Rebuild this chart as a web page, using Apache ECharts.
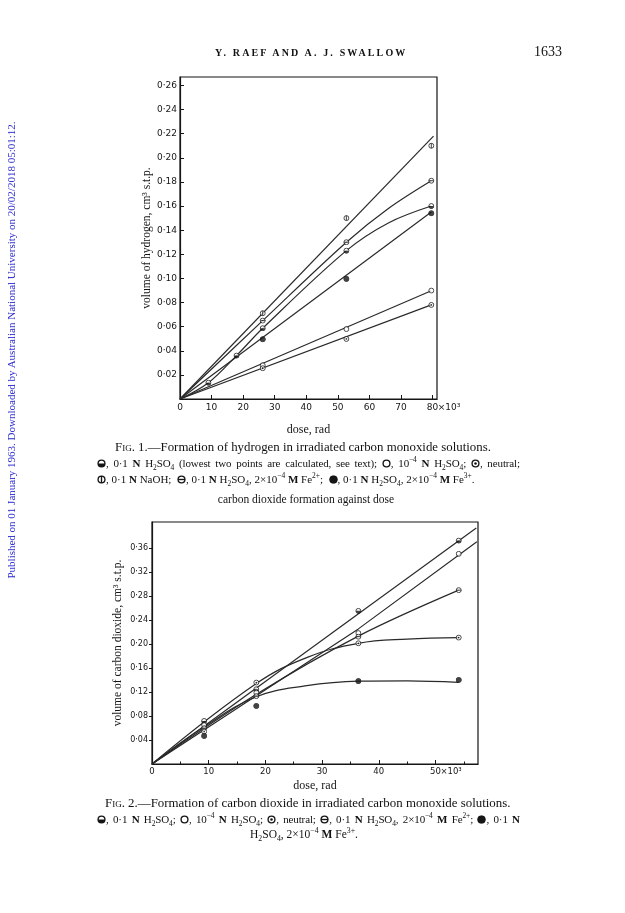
<!DOCTYPE html>
<html>
<head>
<meta charset="utf-8">
<script src="https://cdn.jsdelivr.net/npm/echarts@6/dist/echarts.min.js"></script>
<style>
  html,body{margin:0;padding:0;background:#fff;}
  #page{position:relative;width:625px;height:913px;overflow:hidden;font-family:"Liberation Serif","DejaVu Serif",serif;color:#111;}
  #chart{position:absolute;left:0;top:0;width:625px;height:913px;}
  .t{position:absolute;white-space:nowrap;line-height:14px;font-size:12px;}
  .t sub,.t sup{font-size:0.68em;line-height:0;}
  .j{text-align:justify;text-align-last:justify;}
  .sym{display:inline-block;width:9px;height:9px;vertical-align:-1px;}
  .sc{font-variant:small-caps;}
</style>
</head>
<body>
<div id="page">
  <div id="chart"></div>
  <div class="t" style="left:215px;top:46px;font-size:10px;font-weight:bold;letter-spacing:2.15px;">Y. RAEF AND A. J. SWALLOW</div>
  <div class="t" style="left:534px;top:45px;font-size:14px;">1633</div>
  <div class="t" style="left:-219px;top:343px;width:460px;text-align:center;font-size:11px;color:#2e2ed0;transform:rotate(-90deg);">Published on 01 January 1963. Downloaded by Australian National University on 20/02/2018 05:01:12.</div>

  <div class="t" style="left:115px;top:440px;font-size:12.85px;"><span class="sc">Fig</span>. 1.—Formation of hydrogen in irradiated carbon monoxide solutions.</div>
  <div class="t j" style="left:97px;top:456px;width:423px;font-size:11px;letter-spacing:-0.12px;"><span class="sym" data-s="half"></span>, 0·1 <b>N</b> H<sub>2</sub>SO<sub>4</sub> (lowest two points are calculated, see text); <span class="sym" data-s="open"></span>, 10<sup>−4</sup> <b>N</b> H<sub>2</sub>SO<sub>4</sub>; <span class="sym" data-s="dot"></span>, neutral;</div>
  <div class="t" style="left:97px;top:472px;font-size:11px;"><span class="sym" data-s="vbar"></span>, 0·1 <b>N</b> NaOH; &nbsp;<span class="sym" data-s="minus"></span>, 0·1 <b>N</b> H<sub>2</sub>SO<sub>4</sub>, 2×10<sup>−4</sup> <b>M</b> Fe<sup>2+</sup>; &nbsp;<span class="sym" data-s="filled"></span>, 0·1 <b>N</b> H<sub>2</sub>SO<sub>4</sub>, 2×10<sup>−4</sup> <b>M</b> Fe<sup>3+</sup>.</div>

  <div class="t" style="left:105px;top:796px;font-size:12.9px;"><span class="sc">Fig</span>. 2.—Formation of carbon dioxide in irradiated carbon monoxide solutions.</div>
  <div class="t j" style="left:97px;top:812px;width:423px;font-size:11px;letter-spacing:-0.12px;"><span class="sym" data-s="half"></span>, 0·1 <b>N</b> H<sub>2</sub>SO<sub>4</sub>; <span class="sym" data-s="open"></span>, 10<sup>−4</sup> <b>N</b> H<sub>2</sub>SO<sub>4</sub>; <span class="sym" data-s="dot"></span>, neutral; <span class="sym" data-s="minus"></span>, 0·1 <b>N</b> H<sub>2</sub>SO<sub>4</sub>, 2×10<sup>−4</sup> <b>M</b> Fe<sup>2+</sup>; <span class="sym" data-s="filled"></span>, 0·1 <b>N</b></div>
  <div class="t" style="left:0;top:827px;width:608px;text-align:center;font-size:11.5px;">H<sub>2</sub>SO<sub>4</sub>, 2×10<sup>−4</sup> <b>M</b> Fe<sup>3+</sup>.</div>
</div>
<script>
// ---------------- Figure 1: hydrogen (dose in 10^3 rad, volume in cm3 s.t.p.) ----------------
const h2_NaOH    = [[26.2,0.0711],[52.7,0.150],[79.6,0.210]];
const h2_Fe2     = [[26.2,0.065],[52.7,0.130],[79.6,0.181]];
const h2_acid    = [[9.0,0.0135],[17.9,0.036],[26.2,0.0587],[52.7,0.123],[79.6,0.160]];
const h2_Fe3     = [[26.2,0.0495],[52.7,0.0996],[79.6,0.154]];
const h2_dilute  = [[26.2,0.028],[52.7,0.058],[79.6,0.0899]];
const h2_neutral = [[26.2,0.0255],[52.7,0.0498],[79.6,0.078]];

const h2Curve_NaOH    = [[0,0],[80.3,0.218]];
const h2Curve_Fe2     = [[0,0],[26.2,0.065],[52.7,0.130],[66,0.158],[79.6,0.181]];
const h2Curve_acid    = [[0,0],[9.0,0.0135],[17.9,0.036],[26.2,0.0587],[52.7,0.123],[66,0.146],[79.6,0.160]];
const h2Curve_Fe3     = [[0,0],[79.6,0.155]];
const h2Curve_dilute  = [[0,0],[79.6,0.0897]];
const h2Curve_neutral = [[0,0],[79.6,0.078]];

// ---------------- Figure 2: carbon dioxide ----------------
const co2_acid    = [[9.2,0.0717],[18.4,0.1245],[36.4,0.255],[54.1,0.372]];
const co2_dilute  = [[9.2,0.065],[18.4,0.119],[36.4,0.218],[54.1,0.350]];
const co2_Fe2     = [[9.2,0.0595],[18.4,0.113],[36.4,0.212],[54.1,0.2895]];
const co2_neutral = [[9.2,0.054],[18.4,0.1356],[36.4,0.201],[54.1,0.2105]];
const co2_Fe3     = [[9.2,0.0467],[18.4,0.0967],[36.4,0.138],[54.1,0.140]];

const co2Curve_acid    = [[0,0],[57.2,0.393]];
const co2Curve_dilute  = [[0,0],[36.4,0.225],[57.3,0.370]];
const co2Curve_Fe2     = [[0,0],[18.4,0.116],[36.4,0.213],[54.1,0.2895]];
const co2Curve_neutral = [[0,0],[18.4,0.134],[27.5,0.178],[36.4,0.201],[45,0.208],[54.1,0.2105]];
const co2Curve_Fe3     = [[0,0],[9.2,0.062],[18.4,0.112],[27,0.130],[36.4,0.138],[45,0.1385],[54.1,0.136]];

// tick values / axis extents
const fig1XTicks = [0,10,20,30,40,50,60,70,80];
const fig1YTicks = [0.02,0.04,0.06,0.08,0.10,0.12,0.14,0.16,0.18,0.20,0.22,0.24,0.26];
const fig2XTicks = [0,10,20,30,40,50];
const fig2XMinor = [5,15,25,35,45,55];
const fig2YTicks = [0.04,0.08,0.12,0.16,0.20,0.24,0.28,0.32,0.36];
const fig1Ext = {xmax:81.4, ymax:0.267, xlast:80};
const fig2Ext = {xmax:57.5, ymax:0.403, xlast:50};

// ---------------- symbols ----------------
const INK = '#151515';
const symInner = {
  open:   '',
  filled: '<circle cx="10" cy="10" r="8.6" fill="'+INK+'"/>',
  dot:    '<circle cx="10" cy="10" r="2.8" fill="'+INK+'"/>',
  minus:  '<line x1="2" y1="10" x2="18" y2="10" stroke="'+INK+'" stroke-width="3"/>',
  half:   '<path d="M2 10 A8 8 0 0 0 18 10 Z" fill="'+INK+'"/>',
  vbar:   '<line x1="10" y1="2" x2="10" y2="18" stroke="'+INK+'" stroke-width="3"/>'
};
function svgOf(k){
  return '<svg xmlns="http://www.w3.org/2000/svg" width="20" height="20" viewBox="0 0 20 20"><circle cx="10" cy="10" r="7.6" fill="#fff" stroke="'+INK+'" stroke-width="3"/>'+symInner[k]+'</svg>';
}
function symOf(k){ return 'image://data:image/svg+xml;charset=utf-8,' + encodeURIComponent(svgOf(k)); }
document.querySelectorAll('.sym').forEach(function(el){ el.innerHTML = svgOf(el.getAttribute('data-s')).replace('width="20" height="20"','width="9" height="9"'); });

// ---------------- chart ----------------
const LINE = '#2a2a2a';
function lf(size){ return {fontFamily:'DejaVu Sans', fontSize:size, color:INK}; }
const nameFont = {fontFamily:'Liberation Serif', fontSize:11.5, color:INK};

function xAxisCfg(gi, ext, ticks, gap, fsize, margin){
  const f = lf(fsize);
  return {
    type:'value', gridIndex:gi, min:0, max:ext.xmax,
    name:'dose, rad', nameLocation:'middle', nameGap:gap, nameMoveOverlap:false,
    nameTextStyle:Object.assign({}, nameFont, {fontSize:12}),
    axisLine:{show:true, lineStyle:{color:INK, width:1.2}},
    axisTick:{show:true, inside:true, length:4, customValues:ticks, lineStyle:{color:INK}},
    minorTick:{show:false},
    splitLine:{show:false},
    axisLabel:Object.assign({}, f, {
      margin:margin, customValues:ticks,
      formatter:function(v){
        if (Math.abs(v-ext.xlast) < 1e-6) return '{p|}{n|'+Math.round(v)+'}{u|×10³}';
        return String(Math.round(v));
      },
      rich:{p:{width:fsize*2.4}, n:f, u:Object.assign({}, f, {width:fsize*2.4})}
    })
  };
}
function minorXAxis(gi, ext, minor){
  return {
    type:'value', gridIndex:gi, min:0, max:ext.xmax, position:'bottom',
    axisLine:{show:false}, axisLabel:{show:false}, splitLine:{show:false},
    axisTick:{show:true, inside:true, length:2.5, customValues:minor, lineStyle:{color:INK}}
  };
}
function yAxisCfg(gi, ext, ticks, name, gap, tickInside, tickLen, margin, fsize){
  return {
    type:'value', gridIndex:gi, min:0, max:ext.ymax,
    name:name, nameLocation:'middle', nameGap:gap, nameRotate:90, nameMoveOverlap:false, nameTextStyle:nameFont,
    axisLine:{show:true, lineStyle:{color:INK, width:1.2}},
    axisTick:{show:true, inside:tickInside, length:tickLen, customValues:ticks, lineStyle:{color:INK}},
    splitLine:{show:false},
    axisLabel:Object.assign({}, lf(fsize), {
      margin:margin, customValues:ticks,
      formatter:function(v){ return v.toFixed(2).replace('.', '·'); }
    })
  };
}
function curve(gi, data, smooth){
  return {type:'line', xAxisIndex:gi, yAxisIndex:gi, data:data, symbol:'none', showSymbol:false,
          smooth:smooth, silent:true, z:2, lineStyle:{color:LINE, width:1.2}};
}
function marks(gi, data, k){
  return {type:'scatter', xAxisIndex:gi, yAxisIndex:gi, data:data, symbol:symOf(k), symbolSize:6.5, z:5, silent:true};
}

const chart = echarts.init(document.getElementById('chart'), null, {renderer:'canvas'});
chart.setOption({
  animation:false,
  backgroundColor:'transparent',
  graphic:[{type:'text', x:306, y:500, style:{text:'carbon dioxide formation against dose', textAlign:'center', textVerticalAlign:'middle', font:'11.5px "Liberation Serif"', fill:INK}}],
  grid:[
    {left:180, top:77, width:257, height:322, show:true, borderColor:INK, borderWidth:1.2, backgroundColor:'transparent'},
    {left:152, top:522, width:326, height:242, show:true, borderColor:INK, borderWidth:1.2, backgroundColor:'transparent'}
  ],
  xAxis:[
    xAxisCfg(0, fig1Ext, fig1XTicks, 25, 9, 4),
    xAxisCfg(1, fig2Ext, fig2XTicks, 16, 8.5, 3),
    minorXAxis(1, fig2Ext, fig2XMinor)
  ],
  yAxis:[
    yAxisCfg(0, fig1Ext, fig1YTicks, 'volume of hydrogen, cm³ s.t.p.', 27, true, 4, 3, 9),
    yAxisCfg(1, fig2Ext, fig2YTicks, 'volume of carbon dioxide, cm³ s.t.p.', 28, false, 3, 4, 8)
  ],
  series:[
    curve(0, h2Curve_NaOH, false),
    curve(0, h2Curve_Fe2, 0.35),
    curve(0, h2Curve_acid, 0.35),
    curve(0, h2Curve_Fe3, false),
    curve(0, h2Curve_dilute, false),
    curve(0, h2Curve_neutral, false),
    marks(0, h2_NaOH, 'vbar'),
    marks(0, h2_Fe2, 'minus'),
    marks(0, h2_acid, 'half'),
    marks(0, h2_Fe3, 'filled'),
    marks(0, h2_dilute, 'open'),
    marks(0, h2_neutral, 'dot'),

    curve(1, co2Curve_acid, false),
    curve(1, co2Curve_dilute, false),
    curve(1, co2Curve_Fe2, 0.35),
    curve(1, co2Curve_neutral, 0.4),
    curve(1, co2Curve_Fe3, 0.4),
    marks(1, co2_acid, 'half'),
    marks(1, co2_dilute, 'open'),
    marks(1, co2_Fe2, 'minus'),
    marks(1, co2_neutral, 'dot'),
    marks(1, co2_Fe3, 'filled')
  ]
});
</script>
</body>
</html>
